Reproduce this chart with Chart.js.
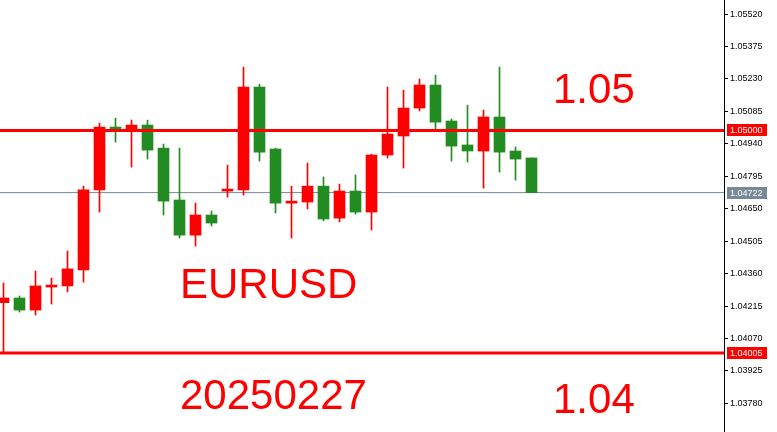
<!DOCTYPE html>
<html>
<head>
<meta charset="utf-8">
<title>EURUSD 20250227</title>
<script src="https://cdn.jsdelivr.net/npm/chart.js@4/dist/chart.umd.min.js"></script>
<style>
  html,body{margin:0;padding:0;background:#fff;overflow:hidden;}
  canvas{display:block;}
</style>
</head>
<body>
<canvas id="chartCandle" width="777" height="432"></canvas>
<script>
/* ----------------- Data (EURUSD, per candle) ----------------- */
const opens  = [1.04230,1.04251,1.04197,1.04300,1.04305,1.04376,1.04734,1.05015,1.04997,1.05024,
                1.04921,1.04689,1.04532,1.04622,1.04729,1.04734,1.05194,1.04917,1.04675,1.04680,
                1.04751,1.04608,1.04729,1.04635,1.04890,1.04975,1.05100,1.05203,1.05042,1.04935,
                1.04908,1.05060,1.04908,1.04877];
const highs  = [1.04318,1.04260,1.04372,1.04340,1.04461,1.04751,1.05033,1.05055,1.05046,1.05046,
                1.04939,1.04921,1.04675,1.04640,1.04845,1.05283,1.05207,1.04921,1.04751,1.04854,
                1.04792,1.04760,1.04801,1.04894,1.05194,1.05180,1.05230,1.05247,1.05051,1.05113,
                1.05091,1.05283,1.04926,1.04877];
const lows   = [1.04005,1.04188,1.04175,1.04224,1.04278,1.04322,1.04635,1.04948,1.04836,1.04872,
                1.04622,1.04519,1.04483,1.04573,1.04702,1.04711,1.04863,1.04631,1.04519,1.04649,
                1.04595,1.04591,1.04626,1.04555,1.04877,1.04832,1.05087,1.05006,1.04863,1.04859,
                1.04742,1.04814,1.04778,1.04722];
const closes = [1.04251,1.04197,1.04305,1.04309,1.04381,1.04734,1.05015,1.05006,1.05024,1.04912,
                1.04684,1.04532,1.04622,1.04586,1.04738,1.05194,1.04903,1.04675,1.04684,1.04751,
                1.04604,1.04729,1.04635,1.04890,1.04984,1.05100,1.05203,1.05037,1.04930,1.04908,
                1.05060,1.04903,1.04872,1.04722];

const yTicks = [1.03780,1.03925,1.04070,1.04215,1.04360,1.04505,1.04650,1.04795,1.04940,1.05085,1.05230,1.05375,1.05520];
const levelHigh = 1.05000;
const levelLow  = 1.04005;
const lastPrice = 1.04722;

const Y_MIN = 1.03652, Y_MAX = 1.05583;
const X_MIN = -0.21875, X_MAX = 45.03125;

/* ----------------- Helpers ----------------- */
const $ = id => document.getElementById(id);
const RED = '#FF0000', GREEN = '#228B22', SLATE = '#778899';
const candleColor = i => closes[i] >= opens[i] ? RED : GREEN;

const bodies = opens.map((o,i) => ({ x:i, y:[Math.min(o,closes[i]), Math.max(o,closes[i])] }));
const wicks  = opens.map((o,i) => ({ x:i, y:[lows[i], highs[i]] }));
const colors = opens.map((o,i) => candleColor(i));
const hLine  = v => [{ x:X_MIN, y:v }, { x:X_MAX, y:v }];

/* ----------------- Overlay: price tags + big texts ----------------- */
const overlay = {
  id:'overlay',
  afterDraw(chart){
    const ctx = chart.ctx, ys = chart.scales.y;
    ctx.save();
    [[levelHigh, RED],[lastPrice, SLATE],[levelLow, RED]].forEach(([v,c])=>{
      const py = Math.round(ys.getPixelForValue(v));
      ctx.fillStyle = c; ctx.fillRect(727, py-6, 40, 12);
      ctx.fillStyle = '#fff'; ctx.font = "9px 'Liberation Sans'";
      ctx.textBaseline = 'middle'; ctx.textAlign = 'left';
      ctx.fillText(v.toFixed(5), 730, py+0.5);
    });
    ctx.fillStyle = RED; ctx.font = "42px 'Liberation Sans'"; ctx.textBaseline = 'alphabetic';
    ctx.fillText('1.05', 553, 103);
    ctx.fillText('EURUSD', 180, 298);
    ctx.fillText('20250227', 180, 409);
    ctx.fillText('1.04', 553, 413);
    ctx.restore();
  }
};

/* ----------------- Chart.js ----------------- */
new Chart($('chartCandle'), {
  type:'bar',
  data:{
    datasets:[
      { type:'line', data:hLine(levelHigh), borderColor:RED, borderWidth:3, pointRadius:0, order:0 },
      { type:'line', data:hLine(levelLow), borderColor:RED, borderWidth:3, pointRadius:0, order:0 },
      { type:'line', data:hLine(lastPrice), borderColor:SLATE, borderWidth:1, pointRadius:0, order:3 },
      { data:bodies, backgroundColor:colors, borderWidth:0, barThickness:11, grouped:false, order:1 },
      { data:wicks, backgroundColor:colors, borderWidth:0, barThickness:1, grouped:false, order:2 }
    ]
  },
  options:{
    responsive:false, animation:false, devicePixelRatio:1,
    layout:{ padding:0, autoPadding:false },
    plugins:{ legend:{ display:false }, tooltip:{ enabled:false } },
    scales:{
      x:{ type:'linear', min:X_MIN, max:X_MAX, display:false, offset:false },
      y:{
        position:'right', min:Y_MIN, max:Y_MAX,
        afterBuildTicks: s => { s.ticks = yTicks.map(v => ({ value:v })); },
        afterFit: s => { s.width = 53; s.paddingTop = 0; s.paddingBottom = 0; },
        border:{ display:true, color:'#000', width:1 },
        grid:{ drawOnChartArea:false, drawTicks:true, tickLength:4, color:'#000' },
        ticks:{ color:'#000', padding:2, font:{ family:'Liberation Sans', size:9 }, callback: v => Number(v).toFixed(5) }
      }
    }
  },
  plugins:[overlay]
});
</script>
</body>
</html>
